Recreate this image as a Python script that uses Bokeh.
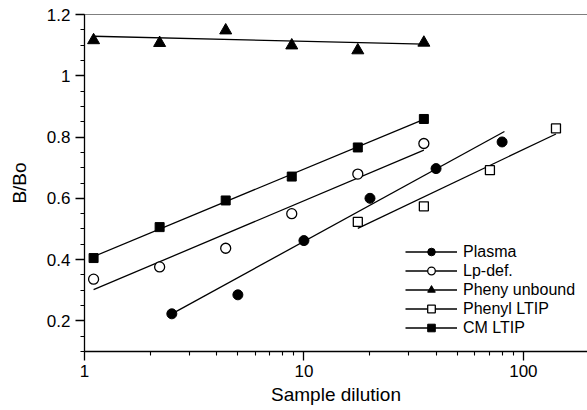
from bokeh.plotting import figure
from bokeh.models import (Range1d, FixedTicker, CustomJSTickFormatter, Span,
                          Legend, LegendItem)
from bokeh.embed import file_html
from bokeh.resources import INLINE

# ---- data ----
dil_a = [1.1, 2.2, 4.4, 8.8, 17.6, 35.2]
dil_plasma = [2.5, 5.0, 10.0, 20.0, 40.0, 80.0]
dil_phenyl = [17.6, 35.2, 70.4, 140.8]

plasma = [0.223, 0.285, 0.462, 0.600, 0.697, 0.784]
lpdef = [0.336, 0.376, 0.437, 0.550, 0.679, 0.779]
pheny_unbound = [1.116, 1.107, 1.148, 1.099, 1.083, 1.108]
phenyl_ltip = [0.523, 0.574, 0.692, 0.828]
cm_ltip = [0.405, 0.506, 0.593, 0.671, 0.766, 0.859]

# fitted lines (end points)
fit_plasma_x, fit_plasma_y = [2.5, 82.0], [0.223, 0.818]
fit_lpdef_x, fit_lpdef_y = [1.1, 35.2], [0.302, 0.757]
fit_pheny_x, fit_pheny_y = [1.1, 35.2], [1.129, 1.103]
fit_phenyl_x, fit_phenyl_y = [17.6, 140.8], [0.502, 0.810]
fit_cm_x, fit_cm_y = [1.1, 35.2], [0.410, 0.858]

x_major = [1, 10, 100]
x_minor = [2, 3, 4, 5, 6, 7, 8, 9, 20, 30, 40, 50, 60, 70, 80, 90, 200]
y_major = [0.2, 0.4, 0.6, 0.8, 1.0, 1.2]
y_minor = [round(0.1 + 0.05 * i, 2) for i in range(23)]

FONT = "Liberation Sans"

p = figure(width=587, height=410, x_axis_type="log",
           x_range=Range1d(1, 196), y_range=Range1d(0.1, 1.2),
           output_backend="svg", toolbar_location=None,
           min_border_left=84, min_border_right=0, min_border_top=14,
           min_border_bottom=59)
p.grid.visible = False
p.outline_line_color = None
p.background_fill_color = "white"
p.border_fill_color = "white"

for ax in (p.xaxis[0], p.yaxis[0]):
    ax.axis_line_color = "black"
    ax.axis_line_width = 1.3
    ax.major_tick_line_color = "black"
    ax.minor_tick_line_color = "black"
    ax.major_tick_line_width = 1.3
    ax.minor_tick_line_width = 1.1
    ax.major_tick_in = 0
    ax.major_tick_out = 9
    ax.minor_tick_in = 0
    ax.minor_tick_out = 4
    ax.major_label_text_font = FONT
    ax.major_label_text_font_size = "17px"
    ax.major_label_text_color = "black"
    ax.axis_label_text_font = FONT
    ax.axis_label_text_font_size = "19px"
    ax.axis_label_text_font_style = "normal"
    ax.axis_label_text_color = "black"

p.xaxis[0].ticker = FixedTicker(ticks=x_major, minor_ticks=x_minor)
p.yaxis[0].ticker = FixedTicker(ticks=y_major, minor_ticks=y_minor)
p.xaxis[0].formatter = CustomJSTickFormatter(code="return Math.round(tick).toString();")
p.yaxis[0].formatter = CustomJSTickFormatter(
    code="var s = tick.toFixed(1); return s.endsWith('.0') ? s.slice(0, -2) : s;")
p.xaxis[0].axis_label = "Sample dilution"
p.yaxis[0].axis_label = "B/Bo"
p.xaxis[0].major_label_standoff = 4
p.xaxis[0].axis_label_standoff = 4
p.yaxis[0].major_label_standoff = 5
p.yaxis[0].axis_label_standoff = 14

p.add_layout(Span(location=1.2, dimension="width", line_color="black", line_width=1.0))

LW = 1.3
items = []

l1 = p.line(fit_plasma_x, fit_plasma_y, line_color="black", line_width=LW)
s1 = p.scatter(dil_plasma, plasma, marker="circle", size=10, fill_color="black",
               line_color="black")
items.append(LegendItem(label="Plasma", renderers=[l1, s1]))

l2 = p.line(fit_lpdef_x, fit_lpdef_y, line_color="black", line_width=LW)
s2 = p.scatter(dil_a, lpdef, marker="circle", size=10, fill_color="white",
               line_color="black", line_width=1.3)
items.append(LegendItem(label="Lp-def.", renderers=[l2, s2]))

l3 = p.line(fit_pheny_x, fit_pheny_y, line_color="black", line_width=LW)
s3 = p.scatter(dil_a, pheny_unbound, marker="triangle", size=12, fill_color="black",
               line_color="black")
items.append(LegendItem(label="Pheny unbound", renderers=[l3, s3]))

l4 = p.line(fit_phenyl_x, fit_phenyl_y, line_color="black", line_width=LW)
s4 = p.scatter(dil_phenyl, phenyl_ltip, marker="square", size=9, fill_color="white",
               line_color="black", line_width=1.3)
items.append(LegendItem(label="Phenyl LTIP", renderers=[l4, s4]))

l5 = p.line(fit_cm_x, fit_cm_y, line_color="black", line_width=LW)
s5 = p.scatter(dil_a, cm_ltip, marker="square", size=9, fill_color="black",
               line_color="black")
items.append(LegendItem(label="CM LTIP", renderers=[l5, s5]))

legend = Legend(items=items, location=(321, 14))
legend.border_line_color = None
legend.background_fill_alpha = 0
legend.padding = 0
legend.margin = 0
legend.spacing = 0
legend.glyph_width = 52
legend.glyph_height = 19
legend.label_height = 19
legend.label_standoff = 6
legend.label_text_font = FONT
legend.label_text_font_size = "16px"
legend.label_text_color = "black"
p.add_layout(legend, "center")

open("out.html", "w").write(file_html(p, INLINE))
